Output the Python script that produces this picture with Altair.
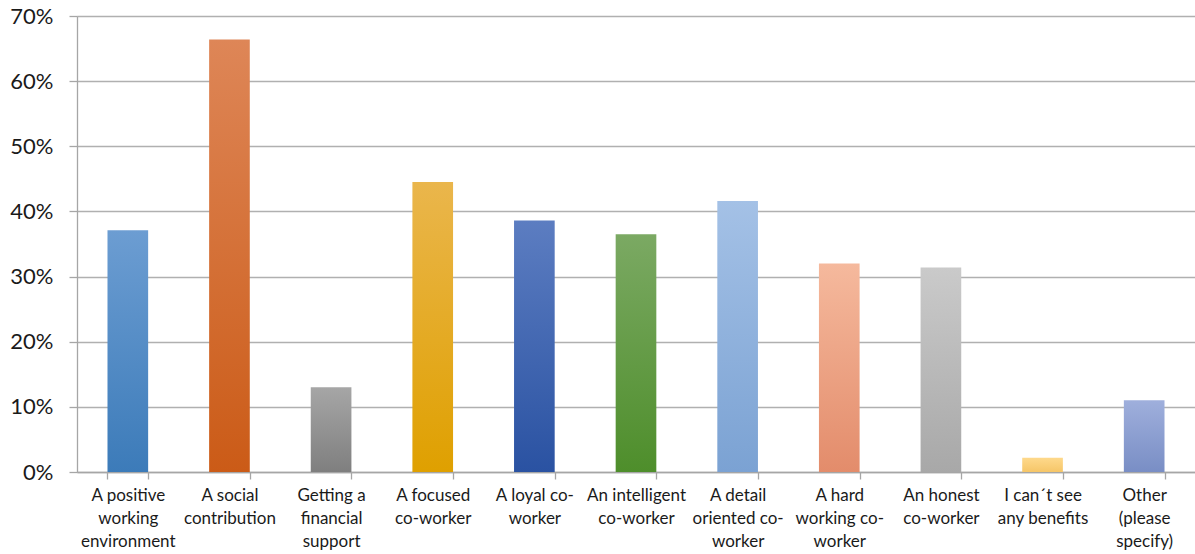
import altair as alt
import pandas as pd

categories = [
    "A positive\nworking\nenvironment",
    "A social\ncontribution",
    "Getting a\nfinancial\nsupport",
    "A focused\nco-worker",
    "A loyal co-\nworker",
    "An intelligent\nco-worker",
    "A detail\noriented co-\nworker",
    "A hard\nworking co-\nworker",
    "An honest\nco-worker",
    "I can´t see\nany benefits",
    "Other\n(please\nspecify)",
]
values = [0.371, 0.664, 0.130, 0.445, 0.386, 0.365, 0.416, 0.320, 0.314, 0.022, 0.110]
top_colors = ["#6c9dd2", "#de8657", "#a6a6a6", "#eab64c", "#5c7dc1", "#7ba963",
              "#a4c1e6", "#f5b99d", "#cacaca", "#fed98c", "#9fafdc"]
bottom_colors = ["#3c7bb9", "#cb5b17", "#7f7f7f", "#dfa000", "#2a52a2", "#4e8e2b",
                 "#7ba2d3", "#e38c6b", "#a8a8a8", "#f6c668", "#798ec5"]

df = pd.DataFrame({"category": categories, "value": values})

layers = []
for i, cat in enumerate(categories):
    grad = alt.Gradient(
        gradient="linear", x1=0, x2=0, y1=0, y2=1,
        stops=[alt.GradientStop(color=top_colors[i], offset=0),
               alt.GradientStop(color=bottom_colors[i], offset=1)],
    )
    layers.append(
        alt.Chart(df).transform_filter(alt.datum.category == cat)
        .mark_bar(color=grad)
        .encode(
            x=alt.X("category:N", sort=categories,
                    scale=alt.Scale(domain=categories, paddingInner=0.6, paddingOuter=0.3),
                    axis=alt.Axis(title=None, labelAngle=0,
                                  labelExpr="split(datum.label, '\\n')",
                                  labelFont="Lato", labelFontSize=17, labelColor="#1a1a1a",
                                  labelLineHeight=23, labelPadding=8, labelBaseline="top",
                                  tickBand="extent", tickSize=7, tickColor="#a6a6a6",
                                  domainColor="#a6a6a6", domainWidth=1.3, tickWidth=1.3,
                                  grid=False)),
            y=alt.Y("value:Q",
                    scale=alt.Scale(domain=[0, 0.7], nice=False),
                    axis=alt.Axis(title=None, format=".0%", values=[0, 0.1, 0.2, 0.3, 0.4, 0.5, 0.6, 0.7],
                                  labelFont="Lato", labelFontSize=22, labelColor="#1a1a1a",
                                  labelPadding=16, tickSize=8, tickColor="#a6a6a6",
                                  tickWidth=1.3, domainColor="#a6a6a6", domainWidth=1.3,
                                  grid=True, gridColor="#b0b0b0", gridWidth=1.3)),
        )
    )

chart = alt.layer(*layers).properties(
    width=1118, height=456,
    autosize=alt.AutoSizeParams(type="none"),
    padding={"left": 77, "top": 16, "right": 0, "bottom": 82},
).configure_view(stroke=None).configure(background="white")

chart.save("out.html", embed_options={"renderer": "svg", "actions": False})
